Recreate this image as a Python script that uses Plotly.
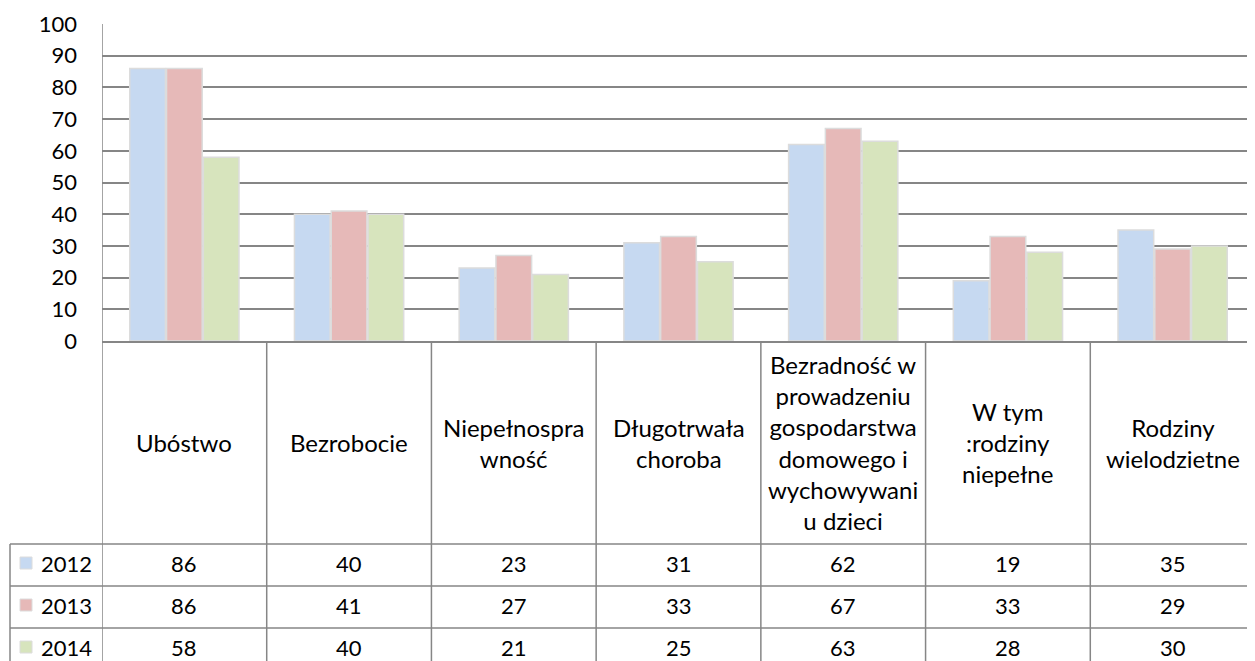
import plotly.graph_objects as go

categories = [
    "Ubóstwo",
    "Bezrobocie",
    "Niepełnospra<br>wność",
    "Długotrwała<br>choroba",
    "Bezradność w<br>prowadzeniu<br>gospodarstwa<br>domowego i<br>wychowywani<br>u dzieci",
    "W tym<br>:rodziny<br>niepełne",
    "Rodziny<br>wielodzietne",
]
years = ["2012", "2013", "2014"]
values_2012 = [86, 40, 23, 31, 62, 19, 35]
values_2013 = [86, 41, 27, 33, 67, 33, 29]
values_2014 = [58, 40, 21, 25, 63, 28, 30]
colors = ["#C6D9F1", "#E6B9B8", "#D7E4BD"]

series = [values_2012, values_2013, values_2014]

# the page body has an 8px margin, so the figure is placed at (8, 8)
OFF = 8
W, H = 1255 - OFF, 661 - OFF
L = 102 - OFF
T = 24 - OFF
BASE = 341 - OFF  # figure row of y=0
B = H - BASE
PLOT_H = H - T - B
GRID = "#868686"
FONT = "Lato"


def yp(p):
    # page pixel row -> paper y
    return (BASE - (p - OFF)) / PLOT_H


def xp(p):
    # page pixel column -> paper x
    return (p - OFF - L) / (W - L)


x_idx = list(range(len(categories)))

fig = go.Figure()
for name, vals, col in zip(years, series, colors):
    fig.add_trace(go.Bar(
        x=x_idx,
        y=vals,
        name=name,
        marker=dict(color=col, line=dict(color="#DCDCDC", width=1.5)),
        showlegend=False,
    ))

shapes = []
annotations = []

# table rows (page pixel rows)
cat_bottom = 544
row_h = 42
row_tops = [cat_bottom + i * row_h for i in range(3)]
bottom = cat_bottom + 3 * row_h

line = dict(color=GRID, width=1.5)

# column dividers
for k in range(len(categories) + 1):
    y0 = 1 if k == 0 else 0
    shapes.append(dict(type="line", xref="x", yref="paper",
                       x0=k - 0.5, x1=k - 0.5, y0=y0, y1=yp(bottom), line=line))

# legend column left border
shapes.append(dict(type="line", xref="paper", yref="paper",
                   x0=xp(10), x1=xp(10), y0=yp(cat_bottom), y1=yp(bottom), line=line))

# horizontal row lines
for r in row_tops:
    shapes.append(dict(type="line", xref="paper", yref="paper",
                       x0=xp(10), x1=1, y0=yp(r), y1=yp(r), line=line))

# category labels
for i, c in enumerate(categories):
    annotations.append(dict(x=i, y=yp((341 + cat_bottom) / 2), xref="x", yref="paper",
                            text=c, showarrow=False, xanchor="center", yanchor="middle",
                            font=dict(family=FONT, size=24, color="#000000"),
                            align="center"))

# data rows
for r, (name, vals, col) in enumerate(zip(years, series, colors)):
    cy = row_tops[r] + 19
    shapes.append(dict(type="rect", xref="paper", yref="paper",
                       x0=xp(20), x1=xp(32), y0=yp(cy - 6), y1=yp(cy + 6),
                       fillcolor=col, line=dict(color="#DCDCDC", width=1)))
    annotations.append(dict(x=xp(39), y=yp(cy), xref="paper", yref="paper",
                            text=name, showarrow=False, xanchor="left", yanchor="middle",
                            font=dict(family=FONT, size=22, color="#000000")))
    for i, v in enumerate(vals):
        annotations.append(dict(x=i, y=yp(cy), xref="x", yref="paper",
                                text=str(v), showarrow=False, xanchor="center",
                                yanchor="middle",
                                font=dict(family=FONT, size=22, color="#000000")))

fig.update_layout(
    width=W,
    height=H,
    margin=dict(l=L, r=0, t=T, b=B),
    paper_bgcolor="white",
    plot_bgcolor="white",
    barmode="group",
    bargap=0.33,
    bargroupgap=0.03,
    font=dict(family=FONT, size=22, color="#000000"),
    xaxis=dict(range=[-0.5, len(categories) - 0.5], showticklabels=False,
               showgrid=False, zeroline=False, showline=True,
               linecolor=GRID, linewidth=2, fixedrange=True),
    yaxis=dict(range=[0, 100], dtick=10, showgrid=True, gridcolor=GRID,
               gridwidth=1.5, zeroline=False, showline=False,
               ticklabelstandoff=24, tickfont=dict(family=FONT, size=22)),
    shapes=shapes,
    annotations=annotations,
)

fig.write_html("out.html")
